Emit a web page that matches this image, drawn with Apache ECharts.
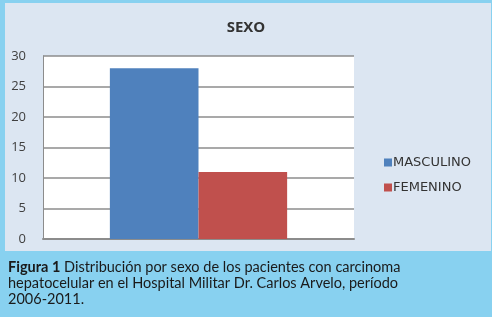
<!DOCTYPE html>
<html>
<head>
<meta charset="utf-8">
<script src="https://cdn.jsdelivr.net/npm/echarts@6/dist/echarts.min.js"></script>
<style>
  html, body { margin: 0; padding: 0; background: #88d1f0; }
  #chart { width: 492px; height: 317px; }
</style>
</head>
<body>
<div id="chart"></div>
<script>
var seriesNames = ['MASCULINO', 'FEMENINO'];
var seriesValues = [28, 11];
var seriesColors = ['#4f81bd', '#c0504d'];
var yTicks = [0, 5, 10, 15, 20, 25, 30];

var chartDom = document.getElementById('chart');
var myChart = echarts.init(chartDom);

var series = seriesNames.map(function (name, i) {
  return {
    name: name,
    type: 'bar',
    data: [seriesValues[i]],
    barGap: '0%',
    barCategoryGap: '43%',
    itemStyle: { color: seriesColors[i] }
  };
});

var option = {
  backgroundColor: '#88d1f0',
  animation: false,
  graphic: [
    {
      type: 'rect',
      z: -10,
      shape: { x: 5, y: 3, width: 486, height: 248 },
      style: { fill: '#dce6f2' }
    },
    {
      type: 'text',
      left: 8,
      top: 259,
      style: {
        text: '{b|Figura 1} Distribución por sexo de los pacientes con carcinoma\nhepatocelular en el Hospital Militar Dr. Carlos Arvelo, período\n2006-2011.',
        font: '14.5px Lato',
        fill: '#1a1a1a',
        lineHeight: 16,
        rich: {
          b: { fontWeight: 'bold', fontSize: 14.5, fontFamily: 'Lato', fill: '#1a1a1a' }
        }
      }
    }
  ],
  title: {
    text: 'SEXO',
    left: 'center',
    top: 15,
    textStyle: { fontSize: 15, fontWeight: 'bold', color: '#333', fontFamily: 'Open Sans' }
  },
  legend: {
    orient: 'vertical',
    left: 379,
    top: 151,
    itemWidth: 8,
    itemHeight: 8,
    itemGap: 12,
    icon: 'rect',
    textStyle: { fontSize: 13, color: '#333', padding: [0, 0, 0, -4], fontFamily: 'DejaVu Sans' },
    data: seriesNames
  },
  grid: {
    left: 43,
    right: 138,
    top: 56,
    bottom: 78,
    show: true,
    backgroundColor: '#ffffff',
    borderWidth: 0
  },
  xAxis: {
    type: 'category',
    data: [''],
    axisLine: { lineStyle: { color: '#8c8c8c', width: 2 } },
    axisTick: { show: false },
    axisLabel: { show: false }
  },
  yAxis: {
    type: 'value',
    min: yTicks[0],
    max: yTicks[yTicks.length - 1],
    interval: 5,
    axisLine: { show: true, lineStyle: { color: '#8c8c8c', width: 1 } },
    axisTick: { show: false },
    axisLabel: { color: '#404040', fontSize: 13, margin: 17, fontFamily: 'Open Sans' },
    splitLine: { lineStyle: { color: '#8c8c8c', width: 1.5 } }
  },
  series: series
};

myChart.setOption(option);
</script>
</body>
</html>
